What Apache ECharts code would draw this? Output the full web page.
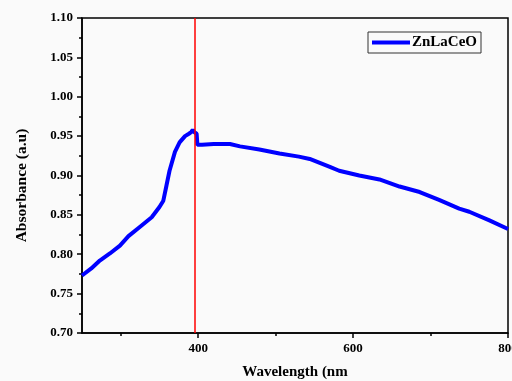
<!DOCTYPE html>
<html>
<head>
<meta charset="utf-8">
<script src="https://cdn.jsdelivr.net/npm/echarts@6/dist/echarts.min.js"></script>
<style>
  html, body { margin: 0; padding: 0; background: #fafafa; }
  #chart { width: 512px; height: 381px; }
</style>
</head>
<body>
<div id="chart"></div>
<script>
// wavelength (nm) and absorbance
const wavelength = [250, 262, 273, 286, 299, 310, 325, 340, 350, 355, 359, 363, 370, 376, 383, 388, 391, 393, 395, 397, 398, 399, 405, 420, 441, 454, 479, 505, 530, 544, 557, 570, 582, 608, 634, 660, 686, 711, 737, 750, 776, 800];
const absorbance = [0.773, 0.782, 0.792, 0.801, 0.811, 0.823, 0.835, 0.847, 0.860, 0.868, 0.887, 0.906, 0.930, 0.942, 0.950, 0.953, 0.955, 0.958, 0.955, 0.957, 0.953, 0.939, 0.939, 0.940, 0.940, 0.937, 0.933, 0.928, 0.924, 0.921, 0.916, 0.911, 0.906, 0.900, 0.895, 0.886, 0.879, 0.869, 0.858, 0.854, 0.843, 0.832];
const markerWavelength = 396;
const majorTicksX = [400, 600, 800];
const minorTicksX = [300, 500, 700];
const seriesName = "ZnLaCeO";

const font = "'Liberation Serif', 'Times New Roman', serif";
const chart = echarts.init(document.getElementById("chart"));

chart.setOption({
  backgroundColor: "#fafafa",
  animation: false,
  grid: {
    left: 82,
    right: 4,
    top: 18,
    bottom: 48,
    containLabel: false,
    outerBoundsMode: "none",
    show: true,
    borderColor: "#000",
    borderWidth: 1.5,
  },
  legend: {
    data: [seriesName],
    left: 368,
    top: 32,
    icon: "rect",
    itemWidth: 38,
    itemHeight: 4,
    itemGap: 4,
    padding: [3, 4, 3, 4],
    borderColor: "#333",
    borderWidth: 1,
    textStyle: { fontFamily: font, fontWeight: "bold", fontSize: 15, color: "#000", padding: [0, 0, 0, -3] },
  },
  xAxis: [
    {
      type: "value",
      min: 250,
      max: 800,
      name: "Wavelength (nm",
      nameLocation: "middle",
      nameGap: 32,
      nameTextStyle: { fontFamily: font, fontWeight: "bold", fontSize: 15, color: "#000" },
      splitLine: { show: false },
      axisLine: { lineStyle: { color: "#000", width: 1.5 } },
      axisTick: { show: true, length: 5, customValues: majorTicksX, lineStyle: { color: "#000", width: 1.5 } },
      axisLabel: { customValues: majorTicksX, margin: 9, fontFamily: font, fontWeight: "bold", fontSize: 13, color: "#000" },
    },
    {
      type: "value",
      min: 250,
      max: 800,
      position: "bottom",
      splitLine: { show: false },
      axisLine: { show: false },
      axisTick: { show: true, length: 3, customValues: minorTicksX, lineStyle: { color: "#000", width: 1.5 } },
      axisLabel: { show: false },
    },
  ],
  yAxis: {
    type: "value",
    min: 0.7,
    max: 1.1,
    interval: 0.05,
    name: "Absorbance (a.u)",
    nameLocation: "middle",
    nameGap: 52,
    nameTextStyle: { fontFamily: font, fontWeight: "bold", fontSize: 15.5, color: "#000", padding: [0, 20, 0, 0] },
    splitLine: { show: false },
    axisLine: { lineStyle: { color: "#000", width: 1.5 } },
    axisTick: { length: 5, lineStyle: { color: "#000", width: 1.5 } },
    minorTick: { show: true, splitNumber: 2, length: 3, lineStyle: { color: "#000", width: 1.5 } },
    axisLabel: {
      margin: 9,
      fontFamily: font,
      fontWeight: "bold",
      fontSize: 13,
      color: "#000",
      formatter: (v) => v.toFixed(2),
    },
  },
  series: [
    {
      name: seriesName,
      type: "line",
      data: wavelength.map((w, i) => [w, absorbance[i]]),
      showSymbol: false,
      lineStyle: { color: "#0000ff", width: 4 },
      itemStyle: { color: "#0000ff" },
      markLine: {
        silent: true,
        symbol: "none",
        label: { show: false },
        lineStyle: { color: "#ff0000", width: 1.5, type: "solid" },
        data: [{ xAxis: markerWavelength }],
      },
    },
  ],
});
</script>
</body>
</html>
